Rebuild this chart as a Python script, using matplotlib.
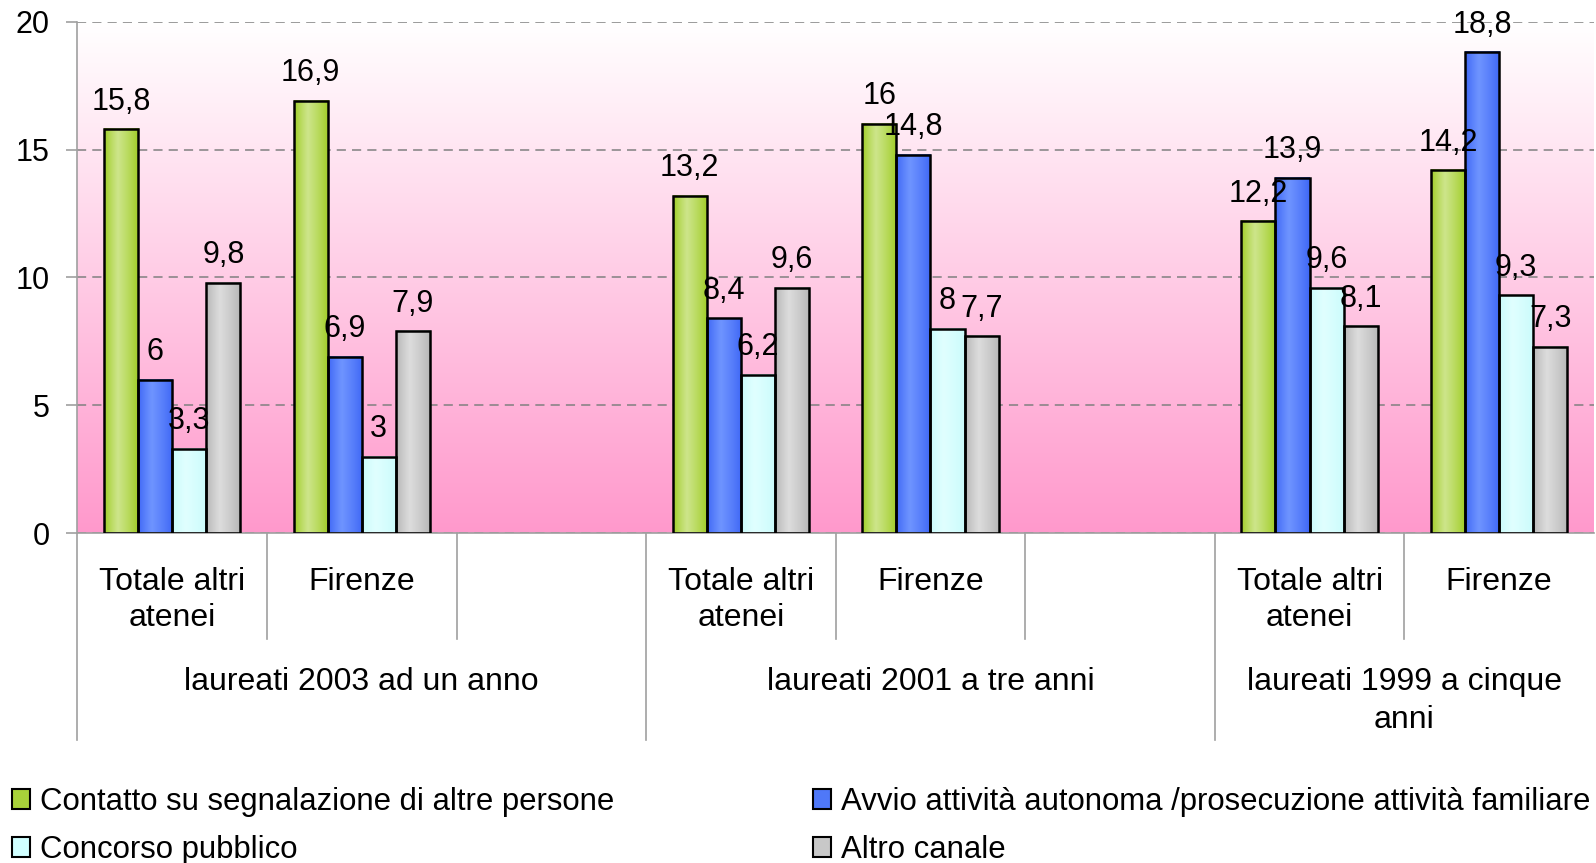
import matplotlib
matplotlib.use("Agg")
import matplotlib.pyplot as plt
import matplotlib.transforms as mtransforms
from matplotlib.colors import LinearSegmentedColormap
from matplotlib.patches import Patch
import numpy as np

plt.rcParams['font.family'] = ['Liberation Sans', 'DejaVu Sans']

# ---- data ----
slot_pos = [0, 1, 3, 4, 6, 7]            # category slots (2 empty spacer slots)
cat_labels = ["Totale altri\natenei", "Firenze"] * 3
group_labels = ["laureati 2003 ad un anno", "laureati 2001 a tre anni",
                "laureati 1999 a cinque\nanni"]
series_names = ["Contatto su segnalazione di altre persone",
                "Avvio attività autonoma /prosecuzione attività familiare",
                "Concorso pubblico",
                "Altro canale"]
contatto = [15.8, 16.9, 13.2, 16, 12.2, 14.2]
avvio = [6, 6.9, 8.4, 14.8, 13.9, 18.8]
concorso = [3.3, 3, 6.2, 8, 9.6, 9.3]
altro = [9.8, 7.9, 9.6, 7.7, 8.1, 7.3]
series = [contatto, avvio, concorso, altro]
yticks = [0, 5, 10, 15, 20]

# styles: (edge shade, center shade)
shades = [("#9DCB1F", "#CDE58A"),
          ("#3C64F5", "#6E94FF"),
          ("#C8FBFB", "#E0FFFF"),
          ("#B4B4B4", "#DCDCDC")]
legend_colors = ["#A8D23A", "#4F78F8", "#D0FFFF", "#C8C8C8"]

fig = plt.figure(figsize=(15.96, 8.63), dpi=100)
ax = fig.add_axes([0.0485, 0.382, 0.9502, 0.593])

n_slots = 8
ax.set_xlim(-0.5, n_slots - 0.5)
ax.set_ylim(0, 20)

# background gradient (white top -> pink bottom)
bg_cmap = LinearSegmentedColormap.from_list("bg", ["#FF99CC", "#FFFFFF"])
grad = np.linspace(0, 1, 256).reshape(-1, 1)
ax.imshow(grad, cmap=bg_cmap, aspect='auto', extent=[0, 1, 0, 1],
          transform=ax.transAxes, origin='lower', zorder=0)

ax.set_axisbelow(True)
ax.yaxis.grid(True, color="#808080", linestyle=(0, (6, 4)), linewidth=1.1)
ax.set_yticks(yticks)
ax.set_yticklabels([str(v) for v in yticks], fontsize=22)
ax.tick_params(axis='y', length=8, color="#A0A0A0", width=1.2, pad=12)
ax.set_xticks([])
for s in ['top', 'right']:
    ax.spines[s].set_visible(False)
ax.spines['left'].set_color("#A0A0A0")
ax.spines['bottom'].set_color("#A0A0A0")
ax.spines['left'].set_linewidth(1.2)
ax.spines['bottom'].set_linewidth(1.2)

nb = 4
bw = 0.72 / nb
x = np.array(slot_pos, dtype=float)
prof = np.concatenate([np.linspace(0, 1, 40), np.linspace(1, 0, 60)]) ** 0.8
for i, vals in enumerate(series):
    offs = (i - (nb - 1) / 2) * bw
    bars = ax.bar(x + offs, vals, width=bw, facecolor="none",
                  edgecolor="black", linewidth=1.8, zorder=3)
    cmap = LinearSegmentedColormap.from_list("c%d" % i, list(shades[i]))
    for b, v in zip(bars, vals):
        x0, w, h = b.get_x(), b.get_width(), b.get_height()
        ax.imshow(prof.reshape(1, -1), cmap=cmap, vmin=0, vmax=1,
                  aspect='auto', extent=[x0, x0 + w, 0, h], zorder=2.5,
                  interpolation='bilinear')
        lbl = ("%g" % v).replace('.', ',')
        ax.annotate(lbl, (x0 + w / 2, h), xytext=(0, 14),
                    textcoords='offset points', ha='center', va='baseline',
                    fontsize=22, zorder=5)
ax.set_xlim(-0.5, n_slots - 0.5)
ax.set_ylim(0, 20)

# category axis labels and dividers
trans = mtransforms.blended_transform_factory(ax.transData, ax.transAxes)
for p, lab in zip(slot_pos, cat_labels):
    ax.text(p, -0.065, lab, transform=trans, ha='center', va='top',
            fontsize=23, linespacing=1.3)
group_starts = [-0.5, 2.5, 5.5]
group_ends = [2.5, 5.5, 7.5]
for gs, ge, glab in zip(group_starts, group_ends, group_labels):
    ax.text((gs + ge) / 2, -0.262, glab, transform=trans, ha='center',
            va='top', fontsize=23, linespacing=1.35)
short_divs = [0.5, 1.5, 3.5, 4.5, 6.5]
long_divs = [2.5, 5.5]
for d in short_divs:
    ax.plot([d, d], [0, -0.207], transform=trans, color="#A0A0A0",
            linewidth=1.2, clip_on=False)
for d in long_divs + [-0.5]:
    ax.plot([d, d], [0, -0.404], transform=trans, color="#A0A0A0",
            linewidth=1.2, clip_on=False)

# legend (two columns)
handles = [Patch(facecolor=c, edgecolor="black", linewidth=1.5) for c in legend_colors]
leg_kw = dict(loc='upper left', frameon=False, fontsize=22.4, handlelength=0.6,
              handleheight=0.6, handletextpad=0.32, labelspacing=0.57)
fig.legend([handles[0], handles[2]], [series_names[0], series_names[2]],
           bbox_to_anchor=(-0.0102, 0.1205), **leg_kw)
fig.legend([handles[1], handles[3]], [series_names[1], series_names[3]],
           bbox_to_anchor=(0.4916, 0.1205), **leg_kw)

fig.savefig("out.png", dpi=100)
